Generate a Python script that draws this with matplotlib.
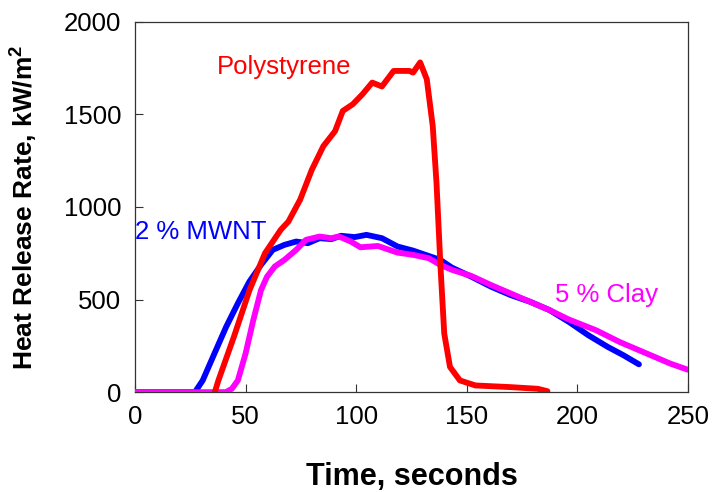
import matplotlib
matplotlib.use("Agg")
import matplotlib.pyplot as plt

# Polystyrene (red)
ps_t = [36, 37.6, 44.6, 51.7, 58.7, 65.8, 69.3, 74.6, 79.9, 85.1, 90.4, 93.9, 98.4,
        102.8, 107.2, 111.6, 116.9, 124, 125.7, 128.9, 131.9, 134.6, 136.3, 138.1,
        139.8, 142.4, 146.9, 153.9, 169.8, 182.1, 186.5]
ps_hrr = [0, 63, 298, 551, 750, 876, 921, 1039, 1201, 1328, 1409, 1518, 1554,
          1608, 1671, 1650, 1734, 1734, 1725, 1780, 1689, 1436, 1129, 678,
          316, 136, 63, 36, 27, 18, 5]

# 2 % MWNT (blue)
mw_t = [0, 27, 30.5, 35.8, 41.1, 46.4, 51.6, 56.9, 62.2, 67.5, 72.8, 78.1, 83.4,
        88.7, 93.1, 99.3, 104.6, 111.6, 118.7, 125.7, 132.8, 138, 143.3, 152.1,
        161, 169.8, 178.6, 187.4, 196.2, 205, 213.8, 220.9, 227.9]
mw_hrr = [0, 0, 63, 208, 352, 479, 596, 687, 768, 795, 813, 804, 831,
          826, 844, 837, 849, 831, 786, 764, 735, 714, 672, 623,
          569, 524, 488, 443, 379, 307, 244, 199, 150]

# 5 % Clay (magenta)
cl_t = [0, 41, 43.7, 46.4, 49.9, 53.4, 56.9, 59.6, 63.1, 67.5, 72.8, 77.2, 83.4,
        88.7, 92.2, 97.5, 101.9, 109.8, 118.7, 125.7, 132.8, 138, 143.3, 152.1,
        161, 169.8, 178.6, 187.4, 196.2, 208.5, 219.1, 231.5, 242.1, 250]
cl_hrr = [0, 0, 18, 63, 208, 389, 551, 623, 678, 714, 768, 822, 840,
          831, 840, 813, 782, 789, 753, 741, 723, 687, 660, 627,
          578, 533, 488, 443, 392, 334, 271, 208, 154, 121]

plt.rcParams['font.family'] = ['Liberation Sans', 'DejaVu Sans']

fig = plt.figure(figsize=(7.12, 4.92), dpi=100)
ax = fig.add_axes([0.19, 0.203, 0.776, 0.753])

ax.plot(mw_t, mw_hrr, color='#0000FF', lw=4.2, solid_capstyle='round', zorder=2)
ax.plot(cl_t, cl_hrr, color='#FF00FF', lw=4.2, solid_capstyle='round', zorder=3)
ax.plot(ps_t, ps_hrr, color='#FF0000', lw=4.2, solid_capstyle='round', zorder=4)

ax.text(37, 1757, "Polystyrene", color='#FF0000', fontsize=18.5, va='center', ha='left')
ax.text(0, 862, "2 % MWNT", color='#0000FF', fontsize=18.5, va='center', ha='left')
ax.text(190, 523, "5 % Clay", color='#FF00FF', fontsize=18.5, va='center', ha='left')

ax.set_xlim(0, 250)
ax.set_ylim(0, 2000)
ax.set_xticks([0, 50, 100, 150, 200, 250])
ax.set_yticks([0, 500, 1000, 1500, 2000])
ax.tick_params(direction='in', length=6, width=0.8, labelsize=18.5, color='#333333')
ax.tick_params(axis='y', pad=10)
ax.tick_params(axis='x', pad=9)
for s in ax.spines.values():
    s.set_color('#333333')
    s.set_linewidth(0.9)

ax.set_xlabel("Time, seconds", fontsize=22, fontweight='bold', labelpad=24)
ax.set_ylabel("Heat Release Rate, kW/m$^\\mathregular{2}$", fontsize=19,
              fontweight='bold', labelpad=18)

fig.savefig("out.png", dpi=100)
